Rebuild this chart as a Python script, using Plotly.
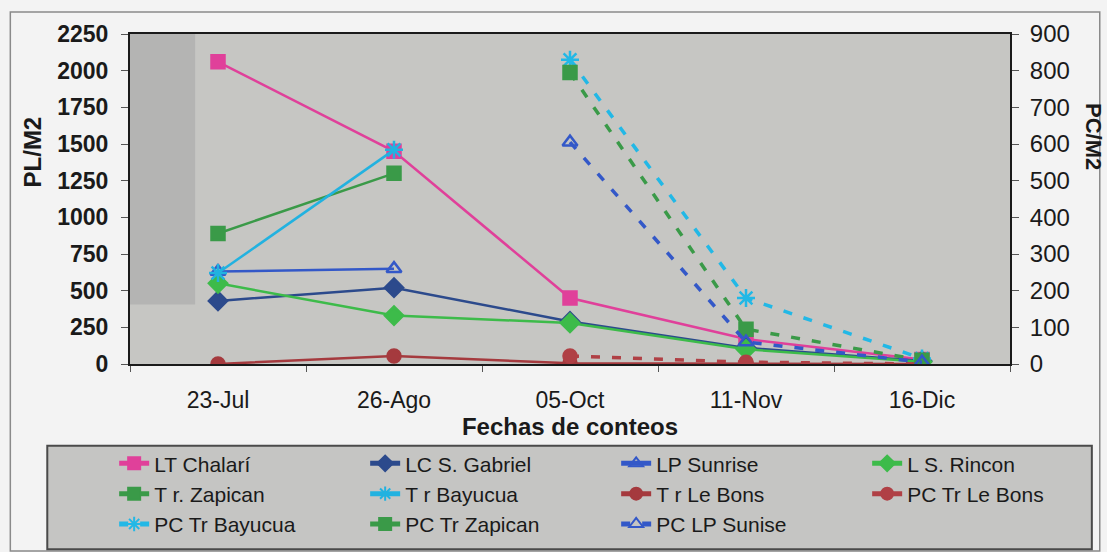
import plotly.graph_objects as go

# Counting dates
fechas = ["23-Jul", "26-Ago", "05-Oct", "11-Nov", "16-Dic"]

# PL/M2 (left axis)
lt_chalari = [2060, 1450, 450, 170, 30]
lc_s_gabriel = [430, 520, 290, 110, 20]
lp_sunrise = [630, 650, None, None, None]
l_s_rincon = [550, 330, 280, 100, 15]
tr_zapican = [890, 1300, None, None, None]
tr_bayucua = [620, 1460, None, None, None]
tr_le_bons = [0, 55, 5, 5, 0]

# PC/M2 (right axis)
pc_tr_le_bons = [None, None, 22, 5, 0]
pc_tr_bayucua = [None, None, 830, 180, 15]
pc_tr_zapican = [None, None, 795, 95, 10]
pc_lp_sunise = [None, None, 605, 60, 5]

left_series = [
    ("LT Chalarí", lt_chalari, "#e0409a", "square", 13),
    ("LC S. Gabriel", lc_s_gabriel, "#2c4a8c", "diamond", 14),
    ("LP Sunrise", lp_sunrise, "#3358c8", "triangle-up-open", 13),
    ("L S. Rincon", l_s_rincon, "#3dbb4a", "diamond", 14),
    ("T r. Zapican", tr_zapican, "#3a9a48", "square", 13),
    ("T r Bayucua", tr_bayucua, "#22b2e0", "asterisk-open", 15),
    ("T r Le Bons", tr_le_bons, "#a53a3e", "circle", 13),
]
right_series = [
    ("PC Tr Le Bons", pc_tr_le_bons, "#b04045", "circle", 13),
    ("PC Tr Bayucua", pc_tr_bayucua, "#22b8e6", "asterisk-open", 15),
    ("PC Tr Zapican", pc_tr_zapican, "#3a9a48", "square", 13),
    ("PC LP Sunise", pc_lp_sunise, "#3358c8", "triangle-up-open", 13),
]

fig = go.Figure()

for name, vals, color, symbol, size in left_series:
    fig.add_trace(go.Scatter(
        x=fechas, y=vals, name=name, mode="lines+markers",
        line=dict(color=color, width=2.5),
        marker=dict(symbol=symbol, size=size, color=color,
                    line=dict(color=color, width=2.5)),
        yaxis="y",
    ))

for name, vals, color, symbol, size in right_series:
    fig.add_trace(go.Scatter(
        x=fechas, y=vals, name=name, mode="lines+markers",
        line=dict(color=color, width=3.5, dash="9px,12px"),
        marker=dict(symbol=symbol, size=size, color=color,
                    line=dict(color=color, width=2.5)),
        yaxis="y2",
    ))

FONT = "Liberation Sans, Arial, sans-serif"
INK = "#1a1a1a"

fig.update_layout(
    width=1107, height=552,
    margin=dict(l=130, r=97, t=34, b=188, autoexpand=False),
    paper_bgcolor="#f3f3f3",
    plot_bgcolor="#c6c6c3",
    font=dict(family=FONT, color=INK),
    xaxis=dict(
        type="category", range=[-0.5, 4.5],
        showline=True, linecolor=INK, linewidth=2, mirror=True,
        ticks="outside", tickson="boundaries", ticklen=6, tickcolor="#555",
        ticklabelstandoff=14,
        tickfont=dict(family=FONT, size=23, color=INK),
        showgrid=False, zeroline=False,
        title=dict(text="<b>Fechas de conteos</b>", standoff=6,
                   font=dict(family=FONT, size=24, color=INK)),
    ),
    yaxis=dict(
        range=[0, 2250], dtick=250,
        showline=True, linecolor=INK, linewidth=2,
        ticks="outside", ticklen=7, tickcolor="#555",
        ticklabelstandoff=8,
        tickfont=dict(family=FONT, size=23, color=INK, weight="bold"),
        showgrid=False, zeroline=False,
    ),
    yaxis2=dict(
        range=[0, 900], dtick=100, overlaying="y", side="right",
        showline=True, linecolor=INK, linewidth=2,
        ticks="outside", ticklen=7, tickcolor="#555",
        ticklabelstandoff=6,
        tickfont=dict(family=FONT, size=24, color=INK),
        showgrid=False, zeroline=False,
    ),
    legend=dict(
        orientation="h", x=-0.018, xanchor="left", y=-0.24, yanchor="top",
        bgcolor="rgba(0,0,0,0)", borderwidth=0,
        font=dict(family=FONT, size=21, color=INK),
        entrywidth=206, entrywidthmode="pixels",
        tracegroupgap=0, itemsizing="constant",
    ),
    showlegend=True,
    shapes=[
        # darker band at the left edge of the plot area
        dict(type="rect", xref="paper", yref="paper", x0=0, x1=0.074, y0=0.18, y1=1,
             fillcolor="#b4b4b3", line=dict(width=0), layer="below"),
        # outer frame of the chart
        dict(type="rect", xref="paper", yref="paper", x0=-0.136, x1=1.102,
             y0=-0.567, y1=1.067, line=dict(color="#8a8a8a", width=1.5),
             fillcolor="rgba(0,0,0,0)", layer="below"),
        # legend box
        dict(type="rect", xref="paper", yref="paper", x0=-0.094, x1=1.093,
             y0=-0.561, y1=-0.248, line=dict(color="#4a4a4a", width=2),
             fillcolor="#c5c5c3", layer="below"),
    ],
    annotations=[
        dict(text="<b>PL/M2</b>", xref="paper", yref="paper", x=-0.111, y=0.642,
             xanchor="center", yanchor="middle",
             textangle=-90, showarrow=False,
             font=dict(family=FONT, size=24, color=INK)),
        dict(text="<b>PC/M2</b>", xref="paper", yref="paper", x=1.0943, y=0.688,
             xanchor="center", yanchor="middle",
             textangle=90, showarrow=False,
             font=dict(family=FONT, size=22, color=INK)),
    ],
)

fig.write_html("out.html")
